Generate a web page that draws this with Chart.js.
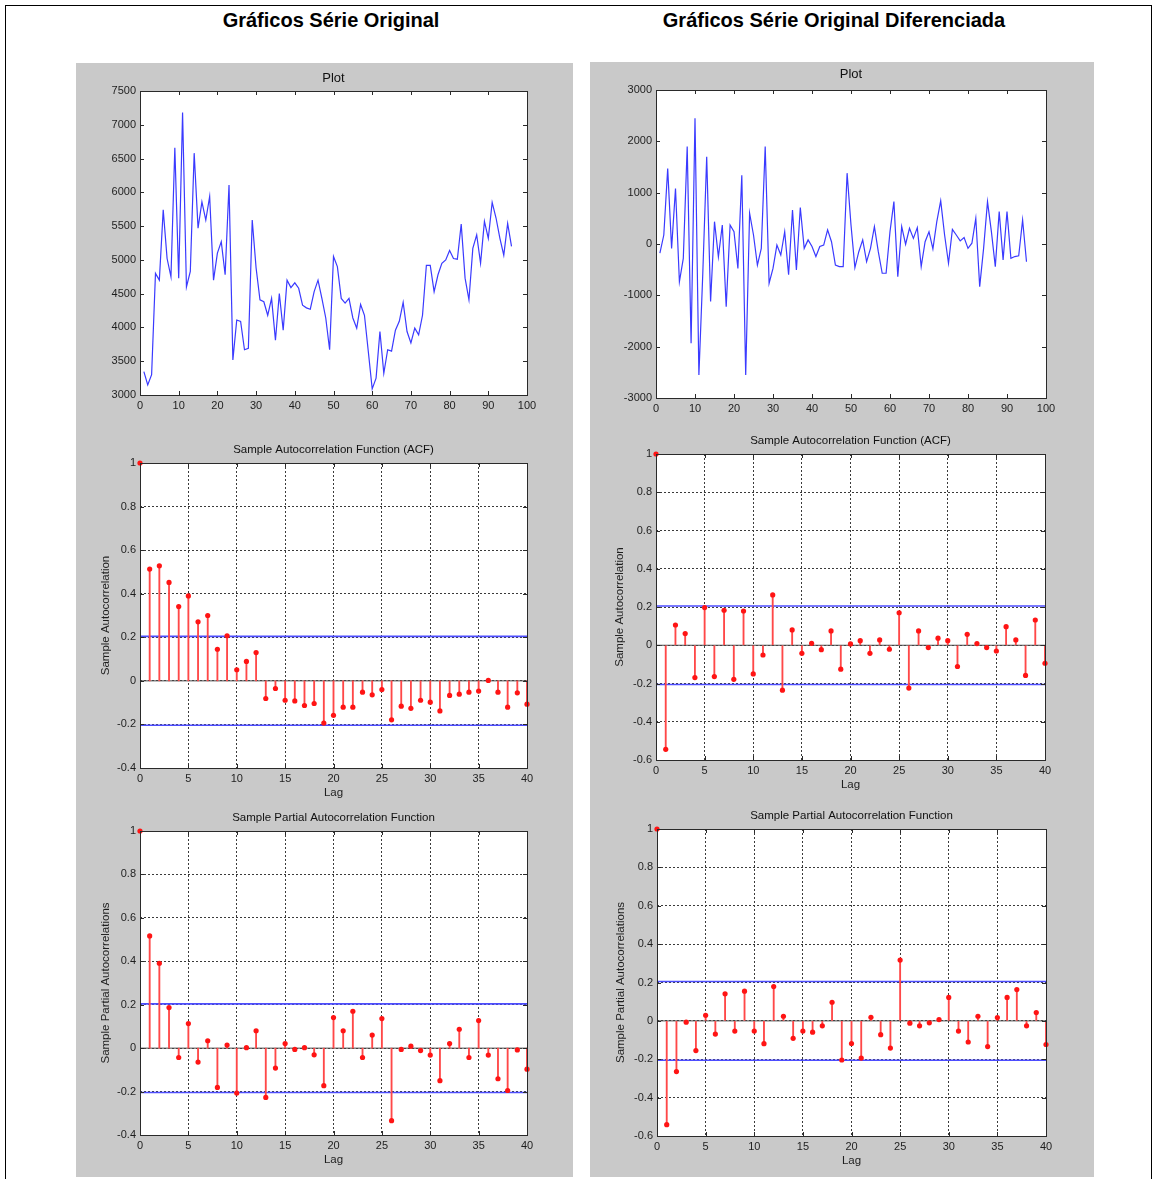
<!DOCTYPE html>
<html>
<head>
<meta charset="utf-8">
<title>Gráficos Série Original</title>
<script src="https://cdn.jsdelivr.net/npm/chart.js@4.4.1/dist/chart.umd.min.js"></script>
<style>
  html, body { margin: 0; padding: 0; background: #ffffff; }
  body { position: relative; width: 1153px; height: 1179px; overflow: hidden;
         font-family: "Liberation Sans", Arial, Helvetica, sans-serif; }
  .sheet { position: absolute; left: 5px; top: 5px; width: 1145px; height: 1200px;
           border-left: 1px solid #000; border-top: 1px solid #000; border-right: 1px solid #000; }
  .head { position: absolute; top: 8px; height: 24px; line-height: 24px; text-align: center;
          font-weight: bold; font-size: 20px; color: #000; }
  .panel { position: absolute; background: #c9c9c9; }
  canvas { position: absolute; }
</style>
</head>
<body>
<div class="sheet"></div>
<div class="head" style="left:131px;width:400px;">Gráficos Série Original</div>
<div class="head" style="left:584px;width:500px;">Gráficos Série Original Diferenciada</div>
<div class="panel" style="left:76px;top:63px;width:497px;height:1114px;"></div>
<div class="panel" style="left:590px;top:62px;width:504px;height:1115px;"></div>

<script>
// ---- data ---------------------------------------------------------------
// original monthly series (observations 1..96)
const originalSeries = [
  3345, 3150, 3300, 4800, 4700, 5740, 5020, 4750, 6660, 4730,
  7180, 4600, 4830, 6580, 5470, 5860, 5590, 5940, 4700, 5100,
  5270, 4780, 6110, 3520, 4110, 4090, 3670, 3690, 5590, 4880,
  4410, 4380, 4180, 4430, 3810, 4500, 3960, 4700, 4590, 4660,
  4580, 4330, 4290, 4270, 4530, 4700, 4430, 4140, 3670, 5050,
  4900, 4430, 4360, 4430, 4140, 3990, 4340, 4180, 3640, 3090,
  3250, 3940, 3320, 3670, 3650, 3960, 4090, 4370, 3940, 3770,
  3990, 3890, 4180, 4920, 4920, 4530, 4780, 4950, 5000, 5140,
  5020, 5010, 5530, 4730, 4410, 5170, 5370, 4950, 5570, 5320,
  5850, 5620, 5320, 5070, 5540, 5200
];

// first-differenced series (observations 1..95)
const differencedSeries = [
  -180, 175, 1470, -85, 1080, -735, -280, 1900, -1935, 2450,
  -2550, -570, 1700, -1120, 435, -250, 370, -1220, 370, 240,
  -475, 1340, -2550, 600, 175, -410, -85, 1900, -765, -475,
  -20, -215, 240, -600, 660, -505, 710, -85, 80, -50,
  -245, -50, -20, 275, 45, -410, -440, -440, 1380, 370,
  -460, -150, 80, -345, -85, 340, -150, -570, -570, 240,
  825, -635, 340, -5, 305, 110, 320, -440, 45, 240,
  -95, 435, 840, 175, -375, 285, 175, 60, 125, -85,
  15, 500, -830, -85, 825, 240, -440, 630, -310, 630,
  -280, -245, -230, 470, -345
];

// sample ACF / PACF, lags 0..40
const acfOriginal = [
  1, 0.513, 0.528, 0.452, 0.341, 0.390, 0.271, 0.300, 0.145, 0.207,
  0.051, 0.089, 0.130, -0.081, -0.035, -0.089, -0.092, -0.113, -0.104, -0.194,
  -0.158, -0.121, -0.121, -0.052, -0.064, -0.040, -0.179, -0.116, -0.126, -0.089,
  -0.098, -0.138, -0.067, -0.061, -0.052, -0.047, 0.002, -0.052, -0.121, -0.055,
  -0.107
];
const pacfOriginal = [
  1, 0.517, 0.391, 0.187, -0.043, 0.113, -0.064, 0.034, -0.181, 0.014,
  -0.207, 0.002, 0.080, -0.227, -0.092, 0.021, -0.006, 0.002, -0.031, -0.173,
  0.141, 0.080, 0.170, -0.043, 0.060, 0.136, -0.334, -0.006, 0.009, -0.011,
  -0.032, -0.150, 0.021, 0.087, -0.043, 0.127, -0.032, -0.141, -0.195, -0.008,
  -0.097
];
const acfDifferenced = [
  1, -0.544, 0.106, 0.061, -0.169, 0.197, -0.164, 0.183, -0.178, 0.179,
  -0.150, -0.051, 0.263, -0.235, 0.080, -0.042, 0.010, -0.023, 0.075, -0.125,
  0.007, 0.024, -0.042, 0.028, -0.021, 0.170, -0.224, 0.075, -0.012, 0.037,
  0.024, -0.111, 0.057, 0.009, -0.012, -0.030, 0.097, 0.028, -0.158, 0.132,
  -0.094
];
const pacfDifferenced = [
  1, -0.541, -0.264, -0.007, -0.155, 0.029, -0.069, 0.141, -0.053, 0.155,
  -0.053, -0.119, 0.179, 0.024, -0.091, -0.053, -0.059, -0.026, 0.097, -0.204,
  -0.118, -0.194, 0.019, -0.072, -0.142, 0.317, -0.012, -0.026, -0.010, 0.007,
  0.122, -0.053, -0.110, 0.024, -0.134, 0.017, 0.122, 0.163, -0.026, 0.043,
  -0.123
];

// approximate 95% confidence bounds (+/- 2/sqrt(N))
const boundOriginal = 0.204;
const boundDifferenced = 0.205;
const maxLag = 40;

// ---- drawing helpers ----------------------------------------------------
Chart.defaults.font.family = '"Liberation Sans", Arial, Helvetica, sans-serif';
Chart.defaults.font.size = 11;
Chart.defaults.color = '#1e1e1e';

// white plotting area, box frame and inward tick marks
const frameTicks = {
  id: 'frameTicks',
  beforeDraw(chart) {
    const { ctx, chartArea: a } = chart;
    ctx.save();
    ctx.fillStyle = '#ffffff';
    ctx.fillRect(a.left, a.top, a.right - a.left, a.bottom - a.top);
    ctx.restore();
  },
  afterDatasetsDraw(chart) {
    const { ctx, chartArea: a, scales: { x, y } } = chart;
    const len = 4;
    ctx.save();
    ctx.strokeStyle = '#2a2a2a';
    ctx.lineWidth = 1;
    ctx.setLineDash([]);
    ctx.beginPath();
    x.ticks.forEach(t => {
      const px = Math.round(x.getPixelForValue(t.value)) + 0.5;
      ctx.moveTo(px, a.bottom); ctx.lineTo(px, a.bottom - len);
      ctx.moveTo(px, a.top); ctx.lineTo(px, a.top + len);
    });
    y.ticks.forEach(t => {
      const py = Math.round(y.getPixelForValue(t.value)) + 0.5;
      ctx.moveTo(a.left, py); ctx.lineTo(a.left + len, py);
      ctx.moveTo(a.right, py); ctx.lineTo(a.right - len, py);
    });
    ctx.stroke();
    ctx.strokeRect(Math.round(a.left) + 0.5, Math.round(a.top) + 0.5,
                   Math.round(a.right - a.left), Math.round(a.bottom - a.top));
    ctx.restore();
  }
};

// canvas whose chart area spans [L,R] x [T,B] in page pixels
const SIDE = 60, TOP = 26, BOTTOM = 36;
function makeCanvas(L, T, R, B) {
  const c = document.createElement('canvas');
  const w = (R - L) + 2 * SIDE, h = (B - T) + TOP + BOTTOM;
  c.width = w; c.height = h;
  c.style.width = w + 'px'; c.style.height = h + 'px';
  c.style.left = (L - SIDE) + 'px';
  c.style.top = (T - TOP) + 'px';
  document.body.appendChild(c);
  return c;
}

function buildScales(o) {
  const gridOn = !!o.grid;
  return {
    x: {
      type: 'linear', min: 0, max: o.xMax, offset: false,
      grid: { display: gridOn, color: '#3a3a3a', lineWidth: 1, drawTicks: false, offset: false },
      border: { display: false, dash: [2, 2] },
      ticks: { stepSize: o.xStep, autoSkip: false, maxRotation: 0, padding: 4,
               callback: v => String(v), color: '#1e1e1e' },
      title: { display: !!o.xTitle, text: o.xTitle || '', color: '#1e1e1e',
               padding: { top: 0, bottom: 4 }, font: { size: 11.5 } },
      afterFit: s => { s.height = BOTTOM; s.paddingLeft = 0; s.paddingRight = SIDE; }
    },
    y: {
      type: 'linear', min: o.yMin, max: o.yMax,
      grid: { display: gridOn, color: '#3a3a3a', lineWidth: 1, drawTicks: false },
      border: { display: false, dash: [2, 2] },
      ticks: { stepSize: o.yStep, autoSkip: false, padding: 4, color: '#1e1e1e',
               callback: o.fmt },
      title: { display: !!o.yTitle, text: o.yTitle || '', color: '#1e1e1e',
               padding: { top: o.yTitlePad || 18, bottom: 0 }, font: { size: 11.5 } },
      afterFit: s => { s.width = SIDE; s.paddingTop = 0; s.paddingBottom = 0; }
    }
  };
}

function baseOptions(title, titleSize, padTop, padBottom, scales) {
  return {
    responsive: false,
    animation: false,
    events: [],
    layout: { padding: 0 },
    plugins: {
      legend: { display: false },
      tooltip: { enabled: false },
      title: { display: true, text: title, color: '#111111',
               font: { size: titleSize, weight: 'normal', lineHeight: '14px' },
               padding: { top: padTop, bottom: padBottom } }
    },
    scales
  };
}

const fmtInt = v => String(Math.round(v));
const fmtDec = v => String(Math.round(v * 10) / 10);

function linePlot(L, T, R, B, series, yMin, yMax, yStep, padTop, padBottom) {
  const canvas = makeCanvas(L, T, R, B);
  const scales = buildScales({ xMax: 100, xStep: 10, yMin, yMax, yStep, fmt: fmtInt, grid: false });
  return new Chart(canvas, {
    type: 'line',
    data: {
      datasets: [{
        data: series.map((v, i) => ({ x: i + 1, y: v })),
        borderColor: '#3a3aff', borderWidth: 1.2, pointRadius: 0, tension: 0, fill: false
      }]
    },
    options: baseOptions('Plot', 13, padTop, padBottom, scales),
    plugins: [frameTicks]
  });
}

function stemPlot(L, T, R, B, values, bound, yMin, title, yTitle, yTitlePad) {
  const canvas = makeCanvas(L, T, R, B);
  const pts = values.map((v, lag) => ({ x: lag, y: v }));
  const scales = buildScales({ xMax: maxLag, xStep: 5, yMin, yMax: 1, yStep: 0.2, fmt: fmtDec,
                               grid: true, xTitle: 'Lag', yTitle, yTitlePad });
  return new Chart(canvas, {
    type: 'scatter',
    data: {
      datasets: [
        { type: 'scatter', data: pts, pointRadius: 2.6, pointBackgroundColor: '#ff1414',
          pointBorderColor: '#ff1414', pointBorderWidth: 0, showLine: false, clip: false },
        { type: 'bar', data: pts, backgroundColor: '#ff4848', borderWidth: 0,
          barThickness: 1.2, grouped: false },
        { type: 'line', data: [{ x: 0, y: 0 }, { x: maxLag, y: 0 }], borderColor: '#4a4a4a',
          borderWidth: 1, pointRadius: 0 },
        { type: 'line', data: [{ x: 0, y: bound }, { x: maxLag, y: bound }], borderColor: '#4d4dff',
          borderWidth: 1.6, pointRadius: 0 },
        { type: 'line', data: [{ x: 0, y: -bound }, { x: maxLag, y: -bound }], borderColor: '#4d4dff',
          borderWidth: 1.6, pointRadius: 0 }
      ]
    },
    options: baseOptions(title, 11.5, 6, 6, scales),
    plugins: [frameTicks]
  });
}

// ---- left column: original series ---------------------------------------
linePlot(140, 91, 527, 395, originalSeries, 3000, 7500, 500, 6, 6);
stemPlot(140, 463, 527, 768, acfOriginal, boundOriginal, -0.4,
         'Sample Autocorrelation Function (ACF)', 'Sample Autocorrelation', 19);
stemPlot(140, 831, 527, 1135, pacfOriginal, boundOriginal, -0.4,
         'Sample Partial Autocorrelation Function', 'Sample Partial Autocorrelations', 19);

// ---- right column: differenced series -------------------------------------
linePlot(656, 90, 1046, 398, differencedSeries, -3000, 3000, 1000, 3, 9);
stemPlot(656, 454, 1045, 760, acfDifferenced, boundDifferenced, -0.6,
         'Sample Autocorrelation Function (ACF)', 'Sample Autocorrelation', 17);
stemPlot(657, 829, 1046, 1136, pacfDifferenced, boundDifferenced, -0.6,
         'Sample Partial Autocorrelation Function', 'Sample Partial Autocorrelations', 17);
</script>
</body>
</html>
